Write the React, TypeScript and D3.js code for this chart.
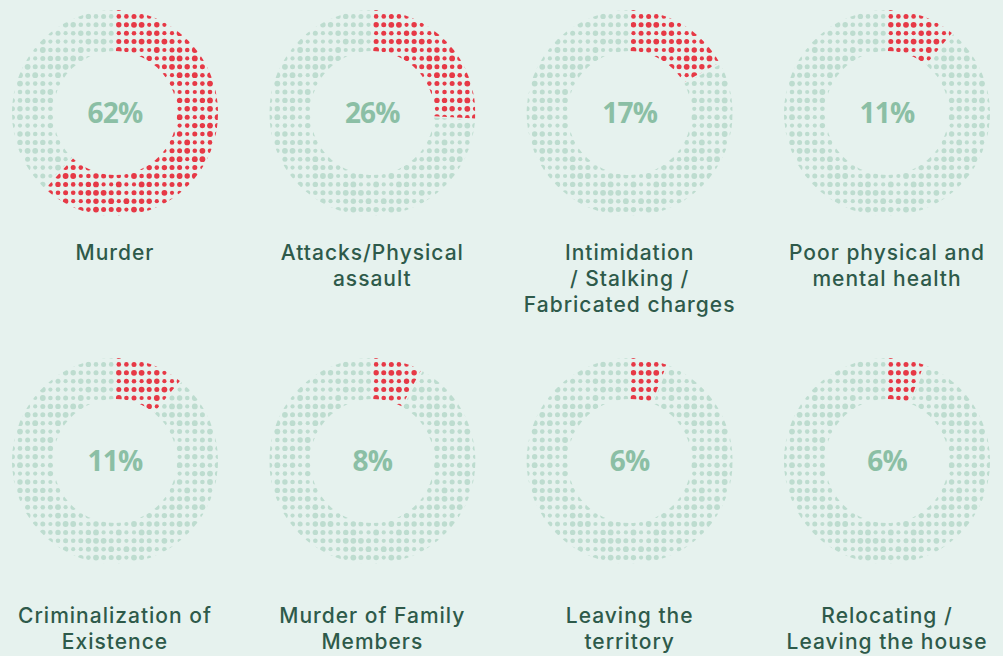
import React, { useEffect } from "react";
import * as d3 from "d3";

const categories: string[][] = [
  ["Murder"],
  ["Attacks/Physical", "assault"],
  ["Intimidation", "/ Stalking /", "Fabricated charges"],
  ["Poor physical and", "mental health"],
  ["Criminalization of", "Existence"],
  ["Murder of Family", "Members"],
  ["Leaving the", "territory"],
  ["Relocating /", "Leaving the house"],
];
const values: number[] = [62, 26, 17, 11, 11, 8, 6, 6];

const W = 1003;
const H = 656;
const BG = "#e6f2ee";
const RED = "#e63946";
const LIGHT = "#bddccf";
const PCT = "#8bbfa5";
const LABEL = "#2e5a4a";

const OUTER = 103;
const INNER = 62;
const DX = 7.6;
const DY = 8.4;

const colX = d3.scalePoint<number>().domain([0, 1, 2, 3]).range([115, 887]);
const rowY = d3.scalePoint<number>().domain([0, 1]).range([113, 461]);
const labelBase = [260, 623];

function dotsFor(): { x: number; y: number; r: number }[] {
  const out: { x: number; y: number; r: number }[] = [];
  const n = Math.ceil((OUTER + 6) / DX);
  const m = Math.ceil((OUTER + 6) / DY);
  for (let i = -n; i <= n; i++) {
    for (let j = -m; j <= m; j++) {
      const x = i * DX + DX / 2;
      const y = j * DY + DY / 2;
      const d = Math.hypot(x, y);
      if (d < INNER - 4 || d > OUTER + 4) continue;
      const h = Math.abs((i * 73856093) ^ (j * 19349663)) % 5;
      out.push({ x, y, r: 2.1 + h * 0.2 });
    }
  }
  return out;
}

const dots = dotsFor();
const arc = d3.arc<any>().innerRadius(INNER).outerRadius(OUTER);

export default function App() {
  useEffect(() => {
    document.body.style.margin = "0";
    document.body.style.background = BG;
  }, []);
  return (
    <svg width={W} height={H} style={{ display: "block", background: BG }}>
      <rect width={W} height={H} fill={BG} />
      <defs>
        {values.map((v, k) => {
          const a = (v / 100) * Math.PI * 2;
          return (
            <React.Fragment key={k}>
              <clipPath id={`red${k}`}>
                <path d={arc({ startAngle: 0.01, endAngle: a - 0.01 }) as string} />
              </clipPath>
              <clipPath id={`lt${k}`}>
                <path d={arc({ startAngle: a + 0.01, endAngle: Math.PI * 2 - 0.01 }) as string} />
              </clipPath>
            </React.Fragment>
          );
        })}
      </defs>
      {values.map((v, k) => {
        const cx = colX(k % 4)!;
        const cy = rowY(Math.floor(k / 4))!;
        const lb = labelBase[Math.floor(k / 4)];
        return (
          <g key={k}>
            <g transform={`translate(${cx},${cy})`}>
              <g clipPath={`url(#lt${k})`}>
                {dots.map((d, i) => (
                  <circle key={i} cx={d.x} cy={d.y} r={d.r} fill={LIGHT} />
                ))}
              </g>
              <g clipPath={`url(#red${k})`}>
                {dots.map((d, i) => (
                  <circle key={i} cx={d.x} cy={d.y} r={d.r} fill={RED} />
                ))}
              </g>
              <text
                x={0}
                y={0}
                dy="0.36em"
                textAnchor="middle"
                fill={PCT}
                fontFamily="'Open Sans', 'Noto Sans', sans-serif"
                fontWeight={700}
                fontSize={28}
                letterSpacing={-0.8}
              >
                {v}%
              </text>
            </g>
            <text
              textAnchor="middle"
              fill={LABEL}
              fontFamily="Inter, 'Noto Sans', sans-serif"
              fontWeight={500}
              fontSize={21}
              letterSpacing={1}
            >
              {categories[k].map((line, li) => (
                <tspan key={li} x={cx} y={lb + li * 26}>
                  {line}
                </tspan>
              ))}
            </text>
          </g>
        );
      })}
    </svg>
  );
}
